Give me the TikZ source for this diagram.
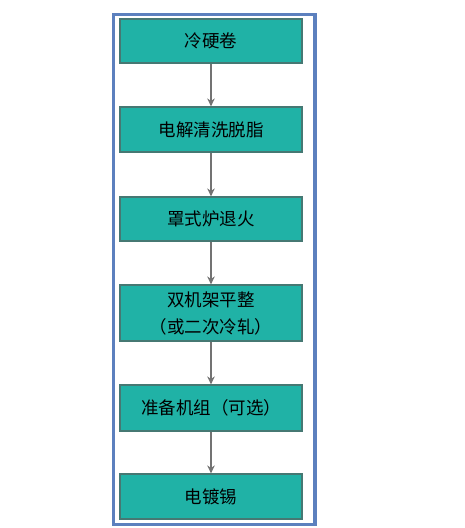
\documentclass[tikz,border=0pt]{standalone}
\usepackage{fontspec}
\newfontfamily\cjk{Noto Sans CJK SC}
\usetikzlibrary{arrows.meta}
\definecolor{boxteal}{RGB}{32,178,166}
\definecolor{boxedge}{RGB}{70,120,115}
\definecolor{frameblue}{RGB}{92,128,190}
\tikzset{stepbox/.style={draw=boxedge, line width=1.2pt, fill=boxteal, minimum width=182pt, inner sep=0pt, align=center, font=\cjk\fontsize{17.5}{27}\selectfont},
flow/.style={draw=gray!90!black, line width=1.4pt, -{Stealth[length=8pt,width=7.5pt]}}}
\begin{document}
\begin{tikzpicture}[x=1pt, y=-1pt]
\useasboundingbox(0,0) rectangle (465,528);
\draw[frameblue, line width=3.2pt](113.5,14.5) rectangle (315,524.5);
\node[stepbox, minimum height=44pt](n1) at (211,41){冷硬卷};
\node[stepbox, minimum height=45pt](n2) at (211,129.5){电解清洗脱脂};
\node[stepbox, minimum height=44pt](n3) at (211,219){罩式炉退火};
\node[stepbox, minimum height=56pt](n4) at (211,313){双机架平整\\（或二次冷轧）};
\node[stepbox, minimum height=46pt](n5) at (211,408){准备机组（可选）};
\node[stepbox, minimum height=45pt](n6) at (211,496.5){电镀锡};
\draw[flow](n1)--(n2);
\draw[flow](n2)--(n3);
\draw[flow](n3)--(n4);
\draw[flow](n4)--(n5);
\draw[flow](n5)--(n6);
\end{tikzpicture}
\end{document}
